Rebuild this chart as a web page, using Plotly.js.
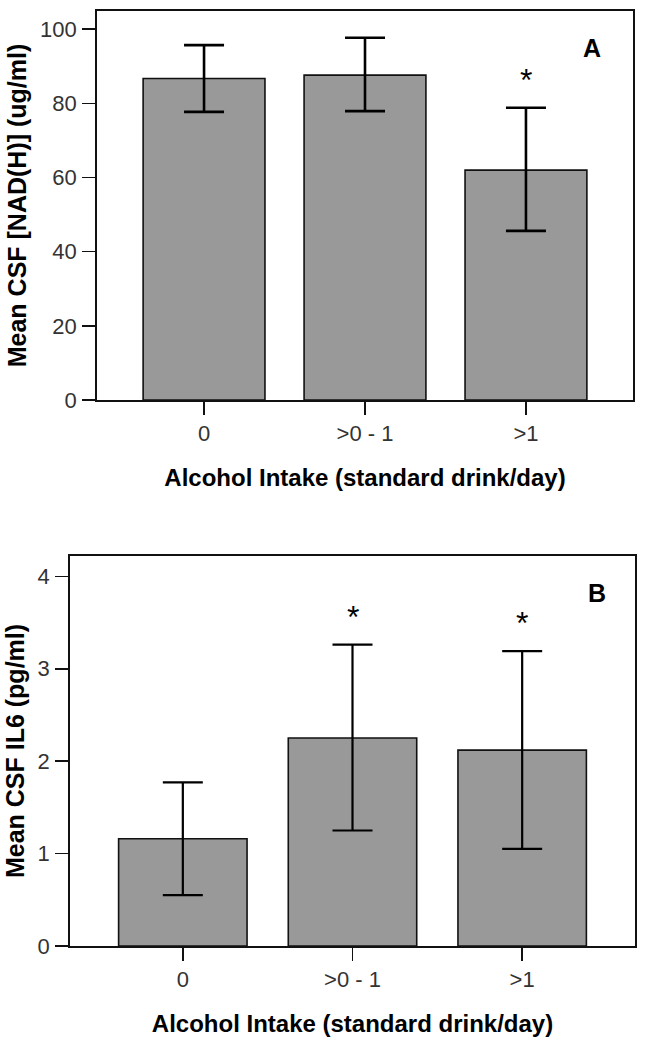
<!DOCTYPE html>
<html>
<head>
<meta charset="utf-8">
<script src="https://cdn.plot.ly/plotly-3.0.1.min.js"></script>
<style>html,body{margin:0;padding:0;background:#fff;}#chart{width:647px;height:1051px;}</style>
</head>
<body>
<div id="chart"></div>
<script>
// Data
const categories = ['0', '>0 - 1', '>1'];
const nadMean  = [86.7, 87.6, 62.0];
const nadUpper = [95.7, 97.7, 78.8];
const nadLower = [77.7, 77.9, 45.6];
const il6Mean  = [1.16, 2.25, 2.12];
const il6Upper = [1.77, 3.26, 3.19];
const il6Lower = [0.55, 1.25, 1.05];
const nadSig = ['', '', '*'];
const il6Sig = ['', '*', '*'];
const panelLabels = ['A', 'B'];
const xTitle = 'Alcohol Intake (standard drink/day)';
const yTitleA = 'Mean CSF [NAD(H)] (ug/ml)';
const yTitleB = 'Mean CSF IL6 (pg/ml)';

const FONT = 'Liberation Sans, Arial, sans-serif';

function barTrace(means, upper, lower, xa, ya, thick) {
  return {
    type: 'bar', x: categories, y: means, xaxis: xa, yaxis: ya,
    width: 0.757,
    marker: {color: '#999999', line: {color: '#111', width: 1.6}},
    error_y: {
      type: 'data', symmetric: false,
      array: upper.map((u, i) => u - means[i]),
      arrayminus: means.map((m, i) => m - lower[i]),
      color: '#000', thickness: thick, width: 20
    },
    hoverinfo: 'skip', showlegend: false
  };
}

const data = [
  barTrace(nadMean, nadUpper, nadLower, 'x', 'y', 2.6),
  barTrace(il6Mean, il6Upper, il6Lower, 'x2', 'y2', 2.2)
];

const W = 647, H = 1051;
function xaxisCfg(domain) {
  return {
    domain: domain, range: [-0.665, 2.665], type: 'category',
    showline: true, mirror: true, linecolor: '#111', linewidth: 1.8,
    ticks: 'outside', ticklen: 13, tickwidth: 1.6, tickcolor: '#111',
    tickfont: {family: FONT, size: 22, color: '#333'},
    ticklabelstandoff: 0,
    showgrid: false, zeroline: false, automargin: false,
    title: {text: xTitle, font: {family: FONT, size: 24, color: '#000', weight: 'bold'}, standoff: 24}
  };
}
function yaxisCfg(domain, range, dtick, title) {
  return {
    domain: domain, range: range, dtick: dtick,
    showline: true, mirror: true, linecolor: '#111', linewidth: 1.8,
    ticks: 'outside', ticklen: 13, tickwidth: 1.6, tickcolor: '#111',
    tickfont: {family: FONT, size: 22, color: '#333'},
    ticklabelstandoff: 1,
    showgrid: false, zeroline: false, automargin: false,
    title: {text: title, font: {family: FONT, size: 25, color: '#000', weight: 'bold'}, standoff: 6}
  };
}

const annotations = [];
function addStars(sig, upper, xa, ya) {
  sig.forEach((s, i) => {
    if (!s) return;
    annotations.push({
      x: categories[i], y: upper[i], xref: xa, yref: ya,
      text: s, showarrow: false, xanchor: 'center', yanchor: 'bottom', yshift: 8,
      font: {family: FONT, size: 32, color: '#000'}
    });
  });
}
addStars(nadSig, nadUpper, 'x', 'y');
addStars(il6Sig, il6Upper, 'x2', 'y2');
annotations.push({
  x: 0.923, y: 0.905, xref: 'x domain', yref: 'y domain', text: panelLabels[0],
  xanchor: 'center', yanchor: 'middle',
  showarrow: false, font: {family: FONT, size: 25, color: '#000', weight: 'bold'}
});
annotations.push({
  x: 0.932, y: 0.905, xref: 'x2 domain', yref: 'y2 domain', text: panelLabels[1],
  xanchor: 'center', yanchor: 'middle',
  showarrow: false, font: {family: FONT, size: 25, color: '#000', weight: 'bold'}
});

const layout = {
  width: W, height: H,
  margin: {l: 0, r: 0, t: 0, b: 0, pad: 0},
  paper_bgcolor: '#fff', plot_bgcolor: '#fff',
  showlegend: false,
  xaxis: xaxisCfg([97 / W, 633 / W]),
  yaxis: yaxisCfg([1 - 400 / H, 1 - 11 / H], [0, 104.9], 20, yTitleA),
  xaxis2: Object.assign(xaxisCfg([70 / W, 635 / W]), {anchor: 'y2'}),
  yaxis2: Object.assign(yaxisCfg([1 - 946 / H, 1 - 556 / H], [0, 4.22], 1, yTitleB), {anchor: 'x2'}),
  annotations: annotations
};
layout.yaxis.anchor = 'x';
layout.xaxis.anchor = 'y';

Plotly.newPlot('chart', data, layout, {staticPlot: true, displayModeBar: false});
</script>
</body>
</html>
